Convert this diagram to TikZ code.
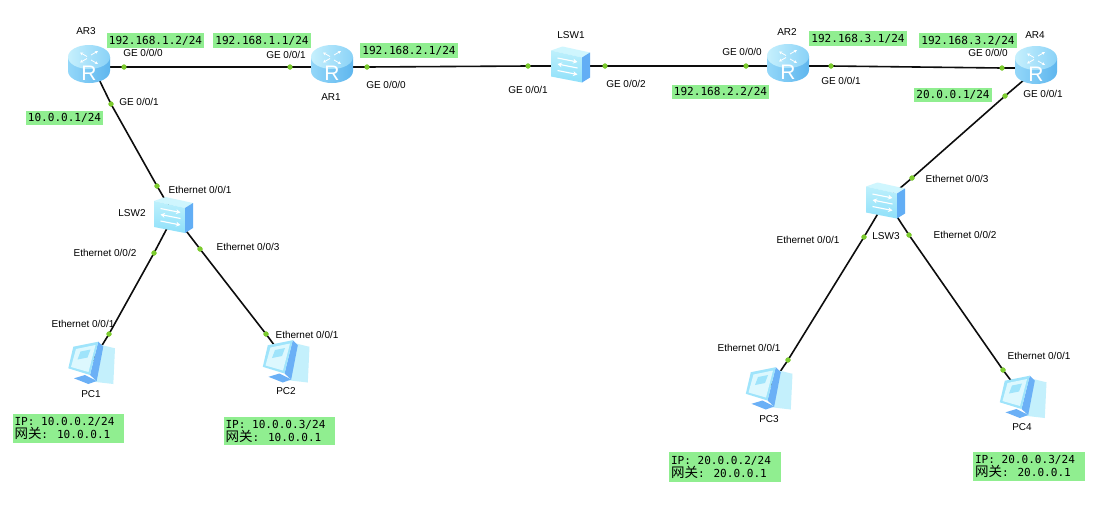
\documentclass[tikz,border=0pt]{standalone}
\usepackage{fontspec}
\setmainfont{Liberation Sans}
\newfontfamily\gmono{DejaVu Sans Mono}
\newfontfamily\cjk{Noto Sans CJK SC}
\usetikzlibrary{arrows.meta}
\definecolor{gfill}{HTML}{90EE90}
\definecolor{portc}{HTML}{7CCB2E}
\definecolor{rbl}{HTML}{93D7F9}
\definecolor{rbr}{HTML}{5FB6EE}
\definecolor{rtl}{HTML}{C6F0FD}
\definecolor{rtr}{HTML}{8AD2F7}
\definecolor{stop}{HTML}{CFF6FE}
\definecolor{sft}{HTML}{BDF0FC}
\definecolor{sfb}{HTML}{8FE0FA}
\definecolor{sside}{HTML}{62AEF5}
\definecolor{pctower}{HTML}{C4F0FC}
\definecolor{pcside}{HTML}{6BB0F6}
\definecolor{pcmon}{HTML}{9FE4FB}
\definecolor{pcscr}{HTML}{DDF8FE}
\tikzset{
  dev/.style={inner sep=0pt,minimum size=0pt,outer sep=0pt},
  port/.style={circle,fill=portc,inner sep=0pt,minimum size=5pt,outer sep=0pt},
  lnk/.style={line width=1.6pt,draw=black!95},
  lbl/.style={inner sep=0pt,font=\fontsize{10}{10}\selectfont,text=black},
  gbox/.style={fill=gfill,inner sep=0pt,text=black,font=\gmono\fontsize{11.07}{12}\selectfont},
  router/.pic={
    \path[left color=rbl,right color=rbr]
      (-21,-7) -- (-21,7) .. controls (-21,13.6) and (-11.6,19) .. (0,19)
      .. controls (11.6,19) and (21,13.6) .. (21,7) -- (21,-7) -- cycle;
    \path[left color=rtl,right color=rtr] (0,-7) ellipse [x radius=21,y radius=12];
    \draw[white,line width=0.8pt,-{Stealth[length=3pt,width=3pt]}] (-2,-7.5) -- (-9,-11.5);
    \draw[white,line width=0.8pt,-{Stealth[length=3pt,width=3pt]}] (2,-9) -- (9,-13);
    \draw[white,line width=0.8pt,-{Stealth[length=3pt,width=3pt]}] (-2,-5.5) -- (-9,-1.5);
    \draw[white,line width=0.8pt,-{Stealth[length=3pt,width=3pt]}] (2,-4) -- (9,0);
    \node[inner sep=0pt,text=white,font=\fontsize{21}{21}\selectfont] at (0,9) {R};
  },
  switchicon/.pic={
    \fill[stop] (-19.5,-14) -- (-8,-18) -- (19.5,-12) -- (11.5,-7) -- cycle;
    \path[top color=sft,bottom color=sfb] (-19.5,-14) -- (11.5,-7) -- (11.5,18) -- (-19.5,12) -- cycle;
    \fill[sside] (11.5,-7) -- (19.5,-12) -- (19.5,13) -- (11.5,18) -- cycle;
    \draw[white,line width=1.1pt,-{Stealth[length=4.5pt,width=5pt]}] (-13,-6.5) -- (7,-2.5);
    \draw[white,line width=1.1pt,-{Stealth[length=4.5pt,width=5pt]}] (7,3.5) -- (-13,-0.5);
    \draw[white,line width=1.1pt,-{Stealth[length=4.5pt,width=5pt]}] (-13,6) -- (7,10);
  },
  pcicon/.pic={
    \fill[pctower] (6,-18.5) -- (23.5,-14.2) -- (21.8,21.5) -- (2,19.2) -- cycle;
    \fill[pcside] (-17.5,15.8) -- (-6.5,12.5) -- (5.2,18.5) -- (-3.2,21.5) -- cycle;
    \fill[pcside] (6.8,-20.8) -- (11.8,-15.8) -- (5.2,18.5) -- (-1.5,12.5) -- cycle;
    \fill[pcmon] (-18.2,-15.8) -- (6.8,-20.8) -- (-1.5,12.5) -- (-23.2,5.8) -- cycle;
    \fill[pcscr] (-15.5,-13.5) -- (4,-17.5) -- (-3,9.5) -- (-20.5,4.5) -- cycle;
    \fill[pcmon] (-11,-11) -- (-1,-13) -- (-4,-5) -- (-14,-3) -- cycle;
  }
}
\newcommand{\gboxat}[6]{%
  \pgfmathsetmacro{\gw}{#4-#2}\pgfmathsetmacro{\gh}{#5-#3}%
  \pgfmathsetmacro{\gcx}{(#2+#4)/2}\pgfmathsetmacro{\gcy}{(#3+#5)/2}%
  \node[gbox,minimum width=\gw pt,minimum height=\gh pt] (#1) at (\gcx,\gcy) {#6};}
\newcommand{\pcinfo}[2]{\begin{minipage}{108pt}\baselineskip=14pt #1\\[-1pt]{\cjk\fontsize{13.5}{13}\selectfont 网关}: #2\end{minipage}}
\begin{document}
\begin{tikzpicture}[x=1pt,y=-1pt]
\useasboundingbox[fill=white] (0,0) rectangle (1109,528);
% device anchors
\node[dev] (ar3) at (93,67) {};
\node[dev] (ar1) at (332,67) {};
\node[dev] (lsw1) at (570,66) {};
\node[dev] (ar2) at (788,66) {};
\node[dev] (ar4) at (1038,68) {};
\node[dev] (lsw2) at (174,215) {};
\node[dev] (lsw3) at (886,200) {};
\node[dev] (pc1) at (91.5,362.5) {};
\node[dev] (pc2) at (286,361) {};
\node[dev] (pc3) at (769,388) {};
\node[dev] (pc4) at (1023,396.5) {};
% port dots
\node[port] (p1) at (124,67) {};
\node[port] (p2) at (290,67) {};
\node[port] (p3) at (367,67) {};
\node[port] (p4) at (528,66) {};
\node[port] (p5) at (605,66) {};
\node[port] (p6) at (746,66) {};
\node[port] (p7) at (831,66) {};
\node[port] (p8) at (1002,68) {};
\node[port] (p9) at (111,104) {};
\node[port] (p10) at (157,186) {};
\node[port] (p11) at (154,253) {};
\node[port] (p12) at (109,334) {};
\node[port] (p13) at (200,249) {};
\node[port] (p14) at (266,334) {};
\node[port] (p15) at (1005,96) {};
\node[port] (p16) at (912,178) {};
\node[port] (p17) at (864,237) {};
\node[port] (p18) at (788,360) {};
\node[port] (p19) at (909,235) {};
\node[port] (p20) at (1003,370) {};
% links
\draw[lnk] (ar3.center) -- (p1.center) -- (p2.center) -- (ar1.center);
\draw[lnk] (ar1.center) -- (p3.center) -- (p4.center) -- (lsw1.center);
\draw[lnk] (lsw1.center) -- (p5.center) -- (p6.center) -- (ar2.center);
\draw[lnk] (ar2.center) -- (p7.center) -- (p8.center) -- (ar4.center);
\draw[lnk] (ar3.center) -- (p9.center) -- (p10.center) -- (lsw2.center);
\draw[lnk] (lsw2.center) -- (p11.center) -- (p12.center) -- (pc1.center);
\draw[lnk] (lsw2.center) -- (p13.center) -- (p14.center) -- (pc2.center);
\draw[lnk] (ar4.center) -- (p15.center) -- (p16.center) -- (lsw3.center);
\draw[lnk] (lsw3.center) -- (p17.center) -- (p18.center) -- (pc3.center);
\draw[lnk] (lsw3.center) -- (p19.center) -- (p20.center) -- (pc4.center);
% redraw dots above links
\foreach \p in {p1,p2,p3,p4,p5,p6,p7,p8,p9,p10,p11,p12,p13,p14,p15,p16,p17,p18,p19,p20}
  \fill[portc] (\p.center) circle [radius=2.6];
% icons
\pic at (89,64) {router};
\pic at (332,64) {router};
\pic at (788,63) {router};
\pic at (1036,65) {router};
\pic at (570.5,64.5) {switchicon};
\pic at (173.5,215) {switchicon};
\pic at (885.5,200.5) {switchicon};
\pic at (91.5,362.5) {pcicon};
\pic at (286,361) {pcicon};
\pic at (769,388) {pcicon};
\pic at (1023,396.5) {pcicon};
% address boxes
\gboxat{b1}{107}{33}{204}{48}{192.168.1.2/24}
\gboxat{b2}{213}{33}{311}{48}{192.168.1.1/24}
\gboxat{b3}{360}{43}{458}{58}{192.168.2.1/24}
\gboxat{b4}{672}{85}{769}{99}{192.168.2.2/24}
\gboxat{b5}{809}{31}{907}{46}{192.168.3.1/24}
\gboxat{b6}{919}{33}{1017}{48}{192.168.3.2/24}
\gboxat{b7}{26}{111}{103}{125}{10.0.0.1/24}
\gboxat{b8}{914}{88}{992}{102}{20.0.0.1/24}
\gboxat{b9}{13}{414}{124}{443}{\pcinfo{IP: 10.0.0.2/24}{10.0.0.1}}
\gboxat{b10}{224}{417}{335}{445}{\pcinfo{IP: 10.0.0.3/24}{10.0.0.1}}
\gboxat{b11}{669}{452}{781}{482}{\pcinfo{IP: 20.0.0.2/24}{20.0.0.1}}
\gboxat{b12}{973}{452}{1085}{481}{\pcinfo{IP: 20.0.0.3/24}{20.0.0.1}}
% device names
\node[lbl] (n1) at (86,31) {AR3};
\node[lbl] (n2) at (331,97) {AR1};
\node[lbl] (n3) at (787,32) {AR2};
\node[lbl] (n4) at (1035,35) {AR4};
\node[lbl] (n5) at (571,35) {LSW1};
\node[lbl] (n6) at (132,213) {LSW2};
\node[lbl] (n7) at (886,236) {LSW3};
\node[lbl] (n8) at (91,394) {PC1};
\node[lbl] (n9) at (286,391) {PC2};
\node[lbl] (n10) at (769,419) {PC3};
\node[lbl] (n11) at (1022,427) {PC4};
% port labels
\node[lbl] (t1) at (143,53) {GE 0/0/0};
\node[lbl] (t2) at (286,55) {GE 0/0/1};
\node[lbl] (t3) at (386,85) {GE 0/0/0};
\node[lbl] (t4) at (528,90) {GE 0/0/1};
\node[lbl] (t5) at (626,84) {GE 0/0/2};
\node[lbl] (t6) at (742,52) {GE 0/0/0};
\node[lbl] (t7) at (841,81) {GE 0/0/1};
\node[lbl] (t8) at (988,53) {GE 0/0/0};
\node[lbl] (t9) at (1043,94) {GE 0/0/1};
\node[lbl] (t10) at (139,102) {GE 0/0/1};
\node[lbl] (t11) at (200,190) {Ethernet 0/0/1};
\node[lbl] (t12) at (105,253) {Ethernet 0/0/2};
\node[lbl] (t13) at (248,247) {Ethernet 0/0/3};
\node[lbl] (t14) at (83,324) {Ethernet 0/0/1};
\node[lbl] (t15) at (307,335) {Ethernet 0/0/1};
\node[lbl] (t16) at (957,179) {Ethernet 0/0/3};
\node[lbl] (t17) at (965,235) {Ethernet 0/0/2};
\node[lbl] (t18) at (808,240) {Ethernet 0/0/1};
\node[lbl] (t19) at (749,348) {Ethernet 0/0/1};
\node[lbl] (t20) at (1039,356) {Ethernet 0/0/1};
\end{tikzpicture}
\end{document}
